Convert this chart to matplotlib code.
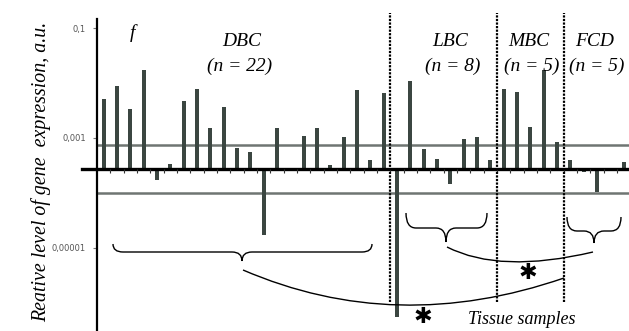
import matplotlib.pyplot as plt
from matplotlib.path import Path
from matplotlib.patches import PathPatch

# Daten: relative Genexpression je Gewebeprobe
groups = ['DBC', 'LBC', 'MBC', 'FCD']
group_n = [22, 8, 5, 5]
dbc = [0.0051, 0.0089, 0.0034, 0.017, 0.00017, 0.00033, 0.0048, 0.0077,
       0.0015, 0.0036, 0.00066, 0.00056, 0.000017, 0.0015, 0.00027, 0.0011,
       0.0015, 0.00032, 0.00105, 0.0075, 0.0004, 0.0066]
lbc = [0.00000056, 0.011, 0.00063, 0.00042, 0.000145, 0.00096, 0.00105, 0.00039]
mbc = [0.0077, 0.0069, 0.0016, 0.017, 0.00086]
fcd = [0.0004, 0.00024, 0.000104, 0.00027, 0.00036]
values = dbc + lbc + mbc + fcd
baseline = 0.00027
upper_line = 0.00076
lower_line = 0.0001
yticks = [0.1, 0.001, 0.00001]
ytick_labels = ['0,1', '0,001', '0,00001']

serif = 'Liberation Serif'
bar_color = '#3b4641'

fig = plt.figure(figsize=(6.29, 3.31), dpi=100)
ax = fig.add_axes([97 / 629, 0, 1 - 97 / 629, 312 / 331])
ax.set_yscale('log')
ax.set_xlim(-0.5, 39.4)
ax.set_ylim(10 ** -6.51, 10 ** -0.836)

x = list(range(len(values)))
heights = [v - baseline for v in values]
ax.bar(x, heights, bottom=baseline, width=0.32, color=bar_color, zorder=3)

# Hilfslinien
ax.axhline(upper_line, color='#6f7572', lw=1.8, zorder=2)
ax.axhline(lower_line, color='#6f7572', lw=1.8, zorder=2)
ax.plot([-1.6, 39.4], [baseline, baseline], color='black', lw=2.4,
        zorder=4, clip_on=False)
ax.vlines([i + 0.5 for i in x], baseline * 0.85, baseline, color='#333333',
          lw=0.8, zorder=4)

# Gruppengrenzen
pos = 0
for n in group_n[:-1]:
    pos += n
    ax.plot([pos - 0.5, pos - 0.5], [0.093, 1.019], transform=ax.get_xaxis_transform(),
            color='black', lw=1.6, linestyle=(0, (1, 0.6)), clip_on=False, zorder=5)

ax.set_yticks(yticks)
ax.set_yticklabels(ytick_labels)
ax.minorticks_off()
ax.tick_params(axis='y', length=3, pad=5, labelsize=6, labelcolor='#555555',
               color='#777777')
for t in ax.get_yticklabels():
    t.set_family(['Liberation Sans Narrow', 'DejaVu Sans'])
ax.set_xticks([])
for s in ['top', 'right', 'bottom']:
    ax.spines[s].set_visible(False)
ax.spines['left'].set_linewidth(1.6)
ax.patch.set_alpha(0)

# Beschriftungen und Klammern (Pixelkoordinaten)
ann = fig.add_axes([0, 0, 1, 1])
ann.set_xlim(0, 629)
ann.set_ylim(331, 0)
ann.axis('off')
ann.patch.set_alpha(0)

ann.text(41, 172, 'Reative level of gene  expression, a.u.', rotation=90,
         ha='center', va='center', family=serif, style='italic', fontsize=14.3)
ann.text(132, 33, 'f', ha='center', va='center', family=serif, style='italic',
         fontsize=14)
label_pos = [(242, 240), (450, 453), (529, 532), (595, 597)]
for g, n, (xa, xb) in zip(groups, group_n, label_pos):
    ann.text(xa, 42, g, ha='center', va='center', family=serif, style='italic', fontsize=14)
    ann.text(xb, 66, f'(n = {n})', ha='center', va='center', family=serif,
             style='italic', fontsize=14)


def brace(x0, x1, xm, ytop, yl, ytip, r=10):
    verts = [(x0, ytop), (x0, yl), (x0 + r, yl), (xm - r, yl), (xm, yl), (xm, ytip),
             (xm, yl), (xm + r, yl), (x1 - r, yl), (x1, yl), (x1, ytop)]
    codes = [Path.MOVETO, Path.CURVE3, Path.CURVE3, Path.LINETO, Path.CURVE3, Path.CURVE3,
             Path.CURVE3, Path.CURVE3, Path.LINETO, Path.CURVE3, Path.CURVE3]
    ann.add_patch(PathPatch(Path(verts, codes), fill=False, lw=1.0, color='black'))


def arc(p0, c, p1):
    path = Path([p0, c, p1], [Path.MOVETO, Path.CURVE3, Path.CURVE3])
    ann.add_patch(PathPatch(path, fill=False, lw=1.0, color='black'))


brace(113, 372, 242, 244, 252, 261)
brace(406, 487, 446, 213, 228, 242)
brace(567, 621, 594, 217, 231, 243)
arc((243, 270), (396, 336), (564, 278))
arc((447, 247), (500, 274), (593, 252))

ann.text(528, 273, '\u2731', ha='center', va='center', fontsize=16, family='DejaVu Sans')
ann.text(423, 317, '\u2731', ha='center', va='center', fontsize=16, family='DejaVu Sans')
ann.text(522, 320, 'Tissue samples', ha='center', va='center', family=serif,
         style='italic', fontsize=13)

fig.savefig('out.png', dpi=100)
